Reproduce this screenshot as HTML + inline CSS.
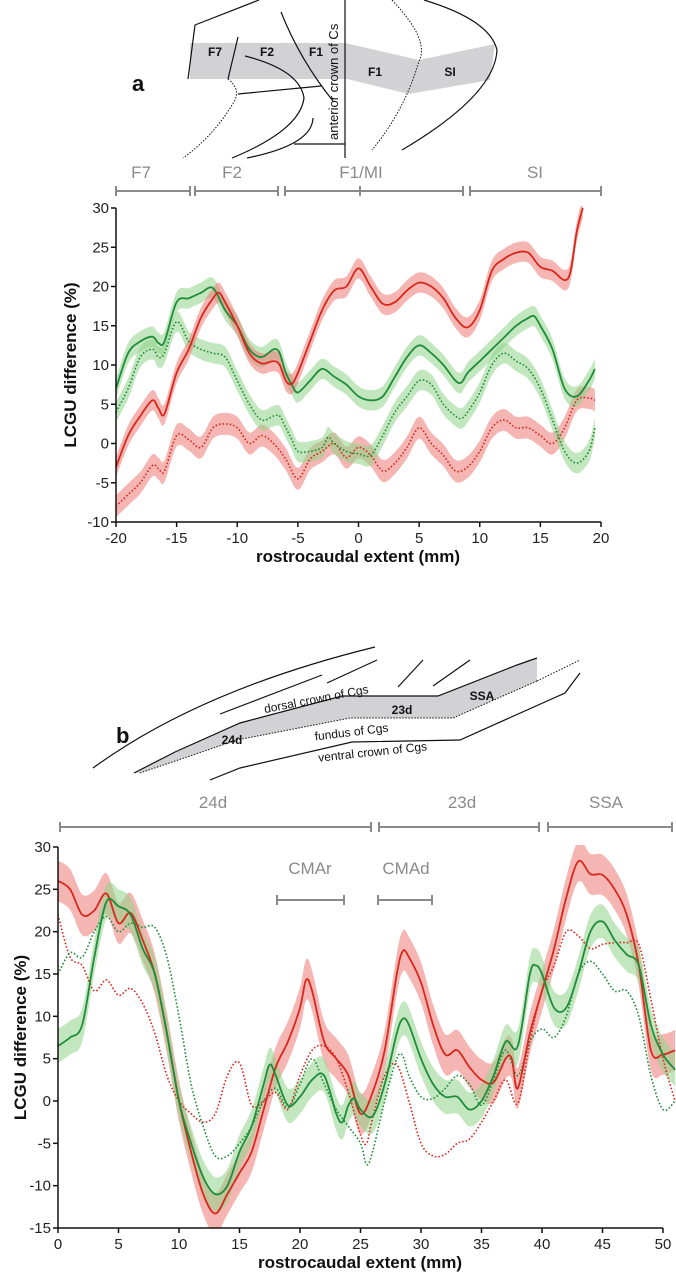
<!DOCTYPE html>
<html><head><meta charset="utf-8">
<style>
html,body{margin:0;padding:0;background:#fff;}
svg{display:block;font-family:"Liberation Sans",sans-serif;}
.tk{font-size:15px;fill:#222;}
.gl{font-size:17px;fill:#8a8a8a;}
</style></head>
<body>
<svg id="fig" width="676" height="1280" viewBox="0 0 676 1280">
<!-- Diagram a -->
<g fill="none" stroke="#111" stroke-width="1.2">
  <polygon points="190,43 345,43 419,60 495,44 490,80 409,94 347,79 190,79" fill="#d2d2d4" stroke="none"/>
  <path d="M259,0 L195,25 L188,79"/>
  <path d="M238,37 L228,79"/>
  <path d="M228,79 Q240,88 235,100 Q215,135 183,158" stroke-dasharray="1.5,1.5" stroke-width="1"/>
  <path d="M245,56 Q300,70 304,98 Q300,130 232,158"/>
  <path d="M238,94 L321,86"/>
  <path d="M281,12 Q300,60 333,101"/>
  <path d="M345,0 L345,158"/>
  <path d="M313,118 Q312,145 247,158"/>
  <path d="M294,144 L345,144"/>
  <path d="M392,0 Q430,40 419,61 Q405,110 372,150" stroke-dasharray="1.5,1.5" stroke-width="1"/>
  <path d="M424,0 Q490,20 497,50 Q495,95 402,150"/>
  <text x="338" y="140" transform="rotate(-90 338 140)" font-size="13" fill="#111" stroke="none">anterior crown of Cs</text>
  <g font-size="12" font-weight="bold" fill="#111" stroke="none" text-anchor="middle">
    <text x="215" y="56">F7</text><text x="267" y="56">F2</text><text x="316" y="56">F1</text>
    <text x="375" y="76">F1</text><text x="450" y="76">SI</text>
  </g>
  <text x="132" y="91" font-size="22" font-weight="bold" fill="#111" stroke="none">a</text>
</g>
<!-- Diagram b -->
<g fill="none" stroke="#111" stroke-width="1.2">
  <polygon points="134,773 175,752 240,723 342,696 438,696 517,665 537,658 537,681 453,718 350,718 237,740 140,773" fill="#d2d2d4" stroke="none"/>
  <path d="M134,773 L175,752 L240,723 L342,696 L438,696 L517,665 L537,658"/>
  <path d="M537,681 L453,718 L350,718 L237,740 L140,773" stroke-dasharray="1.5,1.5" stroke-width="1"/>
  <path d="M537,681 L580,660" stroke-dasharray="1.5,1.5" stroke-width="1"/>
  <path d="M93,768 Q200,690 375,647"/>
  <path d="M220,714 L322,675"/>
  <path d="M327,683 L377,660"/>
  <path d="M398,687 L423,660"/>
  <path d="M433,686 L470,660"/>
  <path d="M580,673 L565,693 L460,740 L352,742 L240,768 L210,780"/>
  <g font-size="12" fill="#111" stroke="none" text-anchor="middle">
    <text x="317" y="703" transform="rotate(-11 317 703)">dorsal crown of Cgs</text>
    <text x="352" y="736" transform="rotate(-7 352 736)">fundus of Cgs</text>
    <text x="373" y="756" transform="rotate(-6 373 756)">ventral crown of Cgs</text>
  </g>
  <g font-size="12" font-weight="bold" fill="#111" stroke="none" text-anchor="middle">
    <text x="232" y="744">24d</text><text x="402" y="714">23d</text><text x="482" y="700">SSA</text>
  </g>
  <text x="116" y="743" font-size="22" font-weight="bold" fill="#111" stroke="none">b</text>
</g>
<g id="chartA"></g>
<g id="chartB"></g>
</svg>
<script>
// ---- Chart A data ----
const aRedX  = [-20,-19,-18,-17,-16.5,-16,-15,-14,-13,-12,-11.5,-11,-10,-9,-8,-7,-6.5,-6,-5.5,-5,-4,-3,-2,-1,0,1,2,3,4,5,6,7,8,9,10,11,12,13,14,15,16,17,17.5,18,18.5];
const aRed   = [-3,1,3.5,5.5,4.5,3.8,9,12,16,18.5,19.2,18,15,11.5,10.2,10.5,10,8,7.6,9,13,17,19.5,20,22.3,20,17.8,18,19.5,20.5,20,18.5,16,14.8,17,22,23.5,24.3,24.3,22.5,22,20.8,22,27,30];
const aGreenX= [-20,-19,-18,-17,-16.5,-16,-15,-14,-13,-12,-11,-10,-9,-8,-7,-6.5,-6,-5.5,-5,-4,-3,-2,-1,0,1,2,3,4,5,6,7,8,8.5,9,10,11,12,13,14,14.5,15,16,17,18,19,19.5];
const aGreen = [7,11.5,13,13.6,12.8,13,18,18.5,19.2,19.8,17,15,12,11,12,11.5,9,7.5,6.5,8,9.5,8.5,7.5,6,5.5,6,8.5,11,12.5,11.5,10,8,7.8,9,10.5,12,13.5,15,16,16.2,15,12,7,6,8,9.5];
const aGreenDotX=[-20,-19,-18,-17,-16.5,-16,-15,-14,-13,-12,-11,-10,-9,-8,-7,-6.5,-6,-5.5,-5,-4,-3,-2.5,-2,-1,0,1,2,3,4,5,6,7,8,8.5,9,10,11,12,13,14,15,16,17,18,19,19.5];
const aGreenDot=[4,7,11,12,11,11.5,15.5,13,12,11.5,11,8,5,3,3.5,3.5,2,0.5,-1,-1,-0.5,0.8,0,-1,-1.3,-1.5,1,4,6,8,7.5,5,3.5,3.2,4,6.5,10,11.5,10.5,9.5,7,3,-1,-2.5,-1,2];
const aRedDotX=[-20,-19,-18,-17,-16.5,-16,-15,-14,-13,-12,-11,-10,-9,-8,-7,-6,-5,-4,-3,-2,-1,0,1,2,3,4,5,6,7,8,9,10,11,12,13,14,15,16,17,18,19,19.5];
const aRedDot=[-8,-6.5,-5,-2.8,-3.2,-3.5,1,0.5,-0.5,2,2.5,2,0,1,0,-2,-4.5,-2,-1,0,-1.8,-0.5,-1.5,-3.5,-2.5,-0.5,2,0,-1.5,-3.5,-3,-1,2,3,2,2,1,0,2,5.5,5.8,5.5];
const aYTicks=[30,25,20,15,10,5,0,-5,-10];
const aXTicks=[-20,-15,-10,-5,0,5,10,15,20];
// ---- Chart B data ----
const bRedX=[0,1,2,3,4,5,6,7,8,9,10,11,12,13,14,15,16,17,18,19,20,20.5,21,22,23,24,25,26,27,28,28.5,29,30,31,32,33,34,35,36,37,37.5,38,39,40,41,42,43,44,45,46,47,48,49,50,51];
const bRed=[26,25,22,22.5,24.5,21,22.2,19,15,8,0,-6,-11,-13.3,-11,-8.5,-6,-1,4,7,11,14.3,13,7,5,3,-1.5,1,6,15,17.7,17,14,9,5.5,6,4,2.5,2.2,5,5,1.5,8,13,18,24,28.3,26.8,26.7,25,22,16,6,5.5,6];
const bGreenX=[0,1,2,3,4,5,6,7,8,9,10,11,12,13,14,15,16,17,17.5,18,19,20,21,22,23,23.5,24,24.5,25,26,27,28,28.5,29,30,31,32,33,34,35,36,37,38,39,39.5,40,41,42,43,44,45,46,47,48,49,50,51];
const bGreen=[6.5,7.5,9,17,23.5,23,22,18,15,8,0,-5,-9,-11,-10,-6,-3,2,4.3,3,-0.5,0.5,2.5,3,-1.5,-2.5,-0.5,0.3,-1,-1.8,2,8,9.7,9,5,2,0.5,0.5,-1,0,3,7,6.5,15,16,15,11,11,15,20,21.2,19,17.3,16,9,5.5,3.7];
const bGreenDotX=[0,1,2,3,4,5,6,7,8,9,10,11,12,13,14,15,16,17,18,19,20,21,22,23,24,25,25.5,26,27,28,28.5,29,30,31,32,33,34,35,36,37,38,39,40,41,42,43,44,45,46,47,48,49,50,51];
const bGreenDot=[15,17.5,17,20,21.8,20,21,20.5,20.5,17,10,2,-3,-6.5,-6.5,-5,-3,0,1.5,-0.8,2,5,2,-1,-3,-5,-7.5,-6,0,5,5.3,3,0.5,0.3,1.5,3,2,-0.5,2.5,6,3,7,8.5,7.5,10,15,16.5,15,13,13,10,3,-1,0];
const bRedDotX=[0,1,2,3,4,5,6,7,8,9,10,11,12,13,14,15,16,17,18,19,20,21,22,23,24,25,25.5,26,27,28,29,30,31,32,33,34,35,36,37,38,39,40,41,42,43,44,45,46,47,48,49,50,51];
const bRedDot=[22,17,16,13,14.3,12.5,13.3,11.5,8,3,0,-1.5,-2.5,-1.5,3,4.5,-0.5,0,1,-1,3,6,6.5,5,1,-4,-5,-2,3,4.3,0,-5,-6.5,-6.3,-5,-4.5,-2.5,0,2.5,-0.3,7,13,16,20,19.5,18,18.5,18.7,18.7,18.5,12,5,0];
const bYTicks=[30,25,20,15,10,5,0,-5,-10,-15];
const bXTicks=[0,5,10,15,20,25,30,35,40,45,50];

const NS="http://www.w3.org/2000/svg";
function mk(tag,attrs,parent){const e=document.createElementNS(NS,tag);for(const k in attrs)e.setAttribute(k,attrs[k]);parent.appendChild(e);return e;}
function smooth(pts){let d="M"+pts[0][0].toFixed(1)+","+pts[0][1].toFixed(1);
  for(let i=0;i<pts.length-1;i++){const p0=pts[Math.max(0,i-1)],p1=pts[i],p2=pts[i+1],p3=pts[Math.min(pts.length-1,i+2)];
    const c1=[p1[0]+(p2[0]-p0[0])/6,p1[1]+(p2[1]-p0[1])/6],c2=[p2[0]-(p3[0]-p1[0])/6,p2[1]-(p3[1]-p1[1])/6];
    d+=" C"+c1[0].toFixed(1)+","+c1[1].toFixed(1)+" "+c2[0].toFixed(1)+","+c2[1].toFixed(1)+" "+p2[0].toFixed(1)+","+p2[1].toFixed(1);}
  return d;}
function smoothCont(pts){return smooth(pts).replace(/^M/,"L");}

function chart(g,cfg){
  const sx=v=>cfg.x0+(v-cfg.xmin)*(cfg.x1-cfg.x0)/(cfg.xmax-cfg.xmin);
  const sy=v=>cfg.y0-(v-cfg.ymin)*(cfg.y0-cfg.y1)/(cfg.ymax-cfg.ymin);
  const clip=cfg.clipId;
  const cp=mk("clipPath",{id:clip},g);mk("rect",{x:cfg.x0,y:cfg.y1-2,width:cfg.x1-cfg.x0+20,height:cfg.y0-cfg.y1+2},cp);
  const plot=mk("g",{"clip-path":"url(#"+clip+")"},g);
  cfg.series.forEach(s=>{
    if(s.err){
      const up=s.x.map((x,i)=>[sx(x),sy(s.y[i]+s.err)]);
      const lo=s.x.map((x,i)=>[sx(x),sy(s.y[i]-s.err)]).reverse();
      const b=mk("path",{d:smooth(up)+" "+smoothCont(lo)+" Z",fill:s.band,"fill-opacity":"0.55",stroke:"none"},plot);
      
      
    }
  });
  cfg.series.forEach(s=>{
    const pts=s.x.map((x,i)=>[sx(x),sy(s.y[i])]);
    const l=mk("path",{d:smooth(pts),fill:"none",stroke:s.color,"stroke-width":s.dash?1.6:1.8,"stroke-dasharray":s.dash?"1.6,2":"none"},plot);
    
    
  });
  const ax=mk("g",{stroke:"#111","stroke-width":1.5},g);
  
  
  mk("line",{x1:cfg.x0,y1:cfg.y1,x2:cfg.x0,y2:cfg.y0},ax);
  mk("line",{x1:cfg.x0,y1:cfg.y0,x2:cfg.x1,y2:cfg.y0},ax);
  cfg.yt.forEach(v=>{mk("line",{x1:cfg.x0-5,y1:sy(v),x2:cfg.x0,y2:sy(v)},ax);
    const t=mk("text",{x:cfg.x0-7,y:sy(v)+5,"text-anchor":"end",class:"tk"},g);t.textContent=v;
    
    });
  cfg.xt.forEach(v=>{mk("line",{x1:sx(v),y1:cfg.y0,x2:sx(v),y2:cfg.y0+5},ax);
    const t=mk("text",{x:sx(v),y:cfg.y0+21,"text-anchor":"middle",class:"tk"},g);t.textContent=v;
    
    });
  const xt=mk("text",{x:cfg.xtx,y:cfg.y0+40,"text-anchor":"middle","font-size":"17","font-weight":"bold",fill:"#111"},g);
  xt.textContent="rostrocaudal extent (mm)";
  
  
  const yy=(cfg.y0+cfg.y1)/2;
  const yt=mk("text",{x:cfg.ytx,y:yy,"text-anchor":"middle","font-size":"17","font-weight":"bold",fill:"#111",transform:"rotate(-90 "+cfg.ytx+" "+yy+")"},g);
  yt.textContent="LCGU difference (%)";
  
  
  cfg.brackets.forEach(br=>{
    const bg=mk("g",{stroke:"#8a8a8a","stroke-width":2},g);
    
    
    mk("line",{x1:br[0],y1:br[2],x2:br[1],y2:br[2]},bg);
    mk("line",{x1:br[0],y1:br[2]-5,x2:br[0],y2:br[2]+5},bg);
    mk("line",{x1:br[1],y1:br[2]-5,x2:br[1],y2:br[2]+5},bg);
    (br[3]||[]).forEach(m=>mk("line",{x1:m,y1:br[2]-5,x2:m,y2:br[2]+5},bg));
  });
  cfg.labels.forEach(lb=>{const t=mk("text",{x:lb[1],y:lb[2],"text-anchor":"middle",class:"gl"},g);t.textContent=lb[0];
    
    });
}
const RED="#d8281c",GREEN="#1e8c3a",RB="#ec7a74",GB="#8fd488";
chart(document.getElementById("chartA"),{clipId:"ca",x0:116,x1:601,y0:522,y1:208,xmin:-20,xmax:20,ymin:-10,ymax:30,yt:aYTicks,xt:aXTicks,xtx:358,ytx:76,
  series:[
   {name:"red-dotted",x:aRedDotX,y:aRedDot,err:1.4,band:RB,color:RED,dash:true},
   {name:"green-dotted",x:aGreenDotX,y:aGreenDot,err:1.3,band:GB,color:GREEN,dash:true},
   {name:"green-solid",x:aGreenX,y:aGreen,err:1.3,band:GB,color:GREEN},
   {name:"red-solid",x:aRedX,y:aRed,err:1.3,band:RB,color:RED}],
  brackets:[[116,190,191],[195,278,191],[285,463,191,[360]],[470,601,191]],
  labels:[["F7",141,178],["F2",232,178],["F1/MI",361,178],["SI",535,178]]});
chart(document.getElementById("chartB"),{clipId:"cb",x0:58,x1:663,y0:1228,y1:847,xmin:0,xmax:50,ymin:-15,ymax:30,yt:bYTicks,xt:bXTicks,xtx:360,ytx:26,
  series:[
   {name:"red-dotted",x:bRedDotX,y:bRedDot,color:RED,dash:true},
   {name:"green-dotted",x:bGreenDotX,y:bGreenDot,color:GREEN,dash:true},
   {name:"red-solid",x:bRedX,y:bRed,err:2.4,band:RB,color:RED},
   {name:"green-solid",x:bGreenX,y:bGreen,err:2.0,band:GB,color:GREEN}],
  brackets:[[60,371,827],[379,539,827],[548,672,827],[277,344,900],[378,432,900]],
  labels:[["24d",213,808],["23d",462,808],["SSA",606,808],["CMAr",310,874],["CMAd",406,874]]});
</script>
</body></html>
